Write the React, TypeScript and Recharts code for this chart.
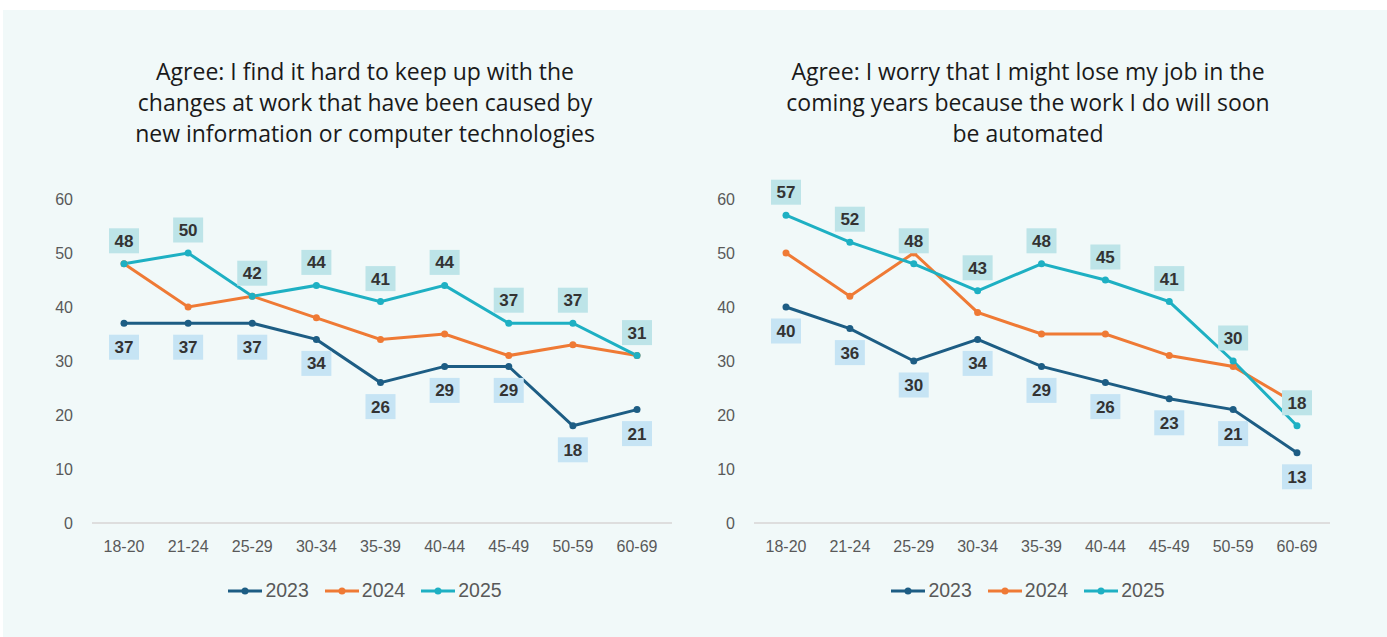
import React from 'react';
import { LineChart, Line, XAxis, YAxis, Legend, LabelList } from 'recharts';

const ageGroups = ['18-20', '21-24', '25-29', '30-34', '35-39', '40-44', '45-49', '50-59', '60-69'];
const years = ['2023', '2024', '2025'];
const yTicks = [0, 10, 20, 30, 40, 50, 60];

// left chart: hard to keep up with tech changes
const keepUp2023 = [37, 37, 37, 34, 26, 29, 29, 18, 21];
const keepUp2024 = [48, 40, 42, 38, 34, 35, 31, 33, 31];
const keepUp2025 = [48, 50, 42, 44, 41, 44, 37, 37, 31];

// right chart: worry about losing job to automation
const worry2023 = [40, 36, 30, 34, 29, 26, 23, 21, 13];
const worry2024 = [50, 42, 50, 39, 35, 35, 31, 29, 22];
const worry2025 = [57, 52, 48, 43, 48, 45, 41, 30, 18];

const COLORS: Record<string, string> = { '2023': '#1d5d84', '2024': '#ef7a35', '2025': '#1eb0c3' };
const BG = '#f1f9f9';
const FONT = 'Liberation Sans, Arial, sans-serif';

const buildRows = (a: number[], b: number[], c: number[]) =>
  ageGroups.map((g, i) => ({ group: g, '2023': a[i], '2024': b[i], '2025': c[i] }));

const makeLabel = (fill: string, above: boolean) => (props: any) => {
  const { x, y, value } = props;
  const cy = above ? y - 23 : y + 24;
  return (
    <g>
      <rect x={x - 15} y={cy - 12.5} width={30} height={25} fill={fill} />
      <text x={x} y={cy} dy={6} textAnchor="middle" fontSize={17} fontWeight={700}
        fill="#333" fontFamily={FONT}>
        {value}
      </text>
    </g>
  );
};

const LegendContent = () => (
  <div style={{ display: 'flex', justifyContent: 'center', gap: 16, fontFamily: FONT }}>
    {years.map((yr) => (
      <div key={yr} style={{ display: 'flex', alignItems: 'center', gap: 3 }}>
        <svg width={34} height={10}>
          <line x1={0} y1={5} x2={34} y2={5} stroke={COLORS[yr]} strokeWidth={3} />
          <circle cx={17} cy={5} r={3.5} fill={COLORS[yr]} />
        </svg>
        <span style={{ fontSize: 19.5, color: '#595959' }}>{yr}</span>
      </div>
    ))}
  </div>
);

interface PanelProps {
  title: string[];
  rows: any[];
  width: number;
  yAxisWidth: number;
  rightMargin: number;
  padRight: number;
  center: number;
}

const Panel = ({ title, rows, width, yAxisWidth, rightMargin, padRight, center }: PanelProps) => (
  <div style={{ position: 'relative', width, height: 637 }}>
    <div style={{
      position: 'absolute', top: 56, left: center - 320, width: 640,
      textAlign: 'center', fontFamily: 'Open Sans, sans-serif', fontSize: 23, lineHeight: '31px', color: '#1a1a1a',
    }}>
      {title.map((t) => <div key={t}>{t}</div>)}
    </div>
    <LineChart width={width} height={637} data={rows} margin={{ top: 199, right: rightMargin, bottom: 84, left: 0 }}>
      <XAxis dataKey="group" tickLine={false} axisLine={{ stroke: '#dedede', strokeWidth: 2 }}
        padding={{ left: 32, right: padRight }}
        tick={{ fill: '#595959', fontSize: 16, fontFamily: FONT }}
        tickSize={0} tickMargin={18} height={30} interval={0} />
      <YAxis domain={[0, 60]} ticks={yTicks} axisLine={false} tickLine={false} tickSize={0} tickMargin={19}
        width={yAxisWidth} tick={{ fill: '#595959', fontSize: 16, fontFamily: FONT }} />
      <Legend verticalAlign="middle" content={<LegendContent />}
        wrapperStyle={{ top: 579, left: center - 300, width: 600 }} />
      <Line dataKey="2023" stroke={COLORS['2023']} strokeWidth={3} dot={{ r: 3.5, fill: COLORS['2023'], strokeWidth: 0 }}
        isAnimationActive={false}>
        <LabelList dataKey="2023" content={makeLabel('#c6e4f4', false)} />
      </Line>
      <Line dataKey="2024" stroke={COLORS['2024']} strokeWidth={3} dot={{ r: 3.5, fill: COLORS['2024'], strokeWidth: 0 }}
        isAnimationActive={false} />
      <Line dataKey="2025" stroke={COLORS['2025']} strokeWidth={3} dot={{ r: 3.5, fill: COLORS['2025'], strokeWidth: 0 }}
        isAnimationActive={false}>
        <LabelList dataKey="2025" content={makeLabel('#bde4e8', true)} />
      </Line>
    </LineChart>
  </div>
);

export default function App() {
  return (
    <div style={{ position: 'absolute', left: 0, top: 0, width: 1387, height: 637, background: '#fff', overflow: 'hidden' }}>
      <div style={{ position: 'absolute', left: 3, top: 10, right: 0, bottom: 0, background: BG }} />
      <div style={{ position: 'absolute', left: 0, top: 0, display: 'flex' }}>
        <Panel
          title={['Agree: I find it hard to keep up with the', 'changes at work that have been caused by', 'new information or computer technologies']}
          rows={buildRows(keepUp2023, keepUp2024, keepUp2025)}
          width={690} yAxisWidth={92} rightMargin={18} padRight={35} center={365}
        />
        <Panel
          title={['Agree: I worry that I might lose my job in the', 'coming years because the work I do will soon', 'be automated']}
          rows={buildRows(worry2023, worry2024, worry2025)}
          width={697} yAxisWidth={64} rightMargin={57} padRight={33} center={338}
        />
      </div>
    </div>
  );
}
